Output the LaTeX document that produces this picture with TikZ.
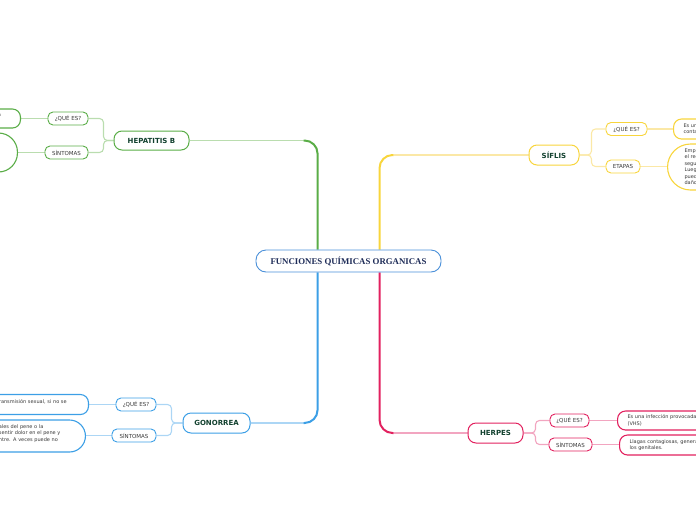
\documentclass[tikz,border=0pt]{standalone}
\usepackage{fontspec}
\setmainfont{DejaVu Sans}
\newfontfamily\titlefont{Liberation Serif}
\usetikzlibrary{backgrounds}
\definecolor{gB}{HTML}{5AAD47}
\definecolor{gL}{HTML}{BADDAF}
\definecolor{yB}{HTML}{F8D53C}
\definecolor{yL}{HTML}{FBE8A6}
\definecolor{bB}{HTML}{3C9FE6}
\definecolor{bL}{HTML}{ACD6F5}
\definecolor{pB}{HTML}{E2215F}
\definecolor{pL}{HTML}{F2A5C0}
\definecolor{cblue}{HTML}{4A90D9}
\definecolor{navy}{HTML}{1E2C58}
\definecolor{topictext}{HTML}{12412F}
\definecolor{subtext}{HTML}{3A3A3A}
\begin{document}
\begin{tikzpicture}[x=1pt,y=-1pt,
  centralbox/.style={draw=cblue, line width=0.9pt, rounded corners=10pt, fill=white,
    minimum width=185pt, minimum height=22pt, inner sep=0pt,
    font=\titlefont\bfseries\fontsize{8.8}{10}\selectfont, text=navy},
  topicbox/.style={draw=#1, line width=1pt, rounded corners=8pt, fill=white,
    minimum height=20pt, inner sep=0pt,
    font=\bfseries\fontsize{7}{8}\selectfont, text=topictext},
  subbox/.style={draw=#1, line width=0.9pt, rounded corners=5pt, fill=white,
    minimum height=13pt, inner sep=0pt,
    font=\fontsize{5.5}{6.5}\selectfont, text=subtext},
  leafbox/.style={draw=#1, line width=1.1pt, rounded corners=8pt, fill=white,
    align=left, inner xsep=4pt, inner ysep=3pt,
    font=\fontsize{5}{6.5}\selectfont, text=subtext},
  mainlight/.style={draw=#1, line width=1.5pt},
  mainfull/.style={draw=#1, line width=2pt, rounded corners=13pt},
  link/.style={draw=#1, line width=1.1pt, rounded corners=4pt}
]
\useasboundingbox (0,0) rectangle (696,520);
\clip (0,0) rectangle (696,520);

% central
\node[centralbox] (cen) at (348.5,261) {FUNCIONES QUÍMICAS ORGANICAS};

% HEPATITIS B
\node[topicbox=gB, minimum width=75pt, minimum height=19pt] (hep) at (151.5,140.5) {HEPATITIS B};
\node[subbox=gB, minimum width=40pt] (hq) at (68,118.5) {¿QUÉ ES?};
\node[subbox=gB, minimum width=43pt] (hs) at (66.5,152.5) {SÍNTOMAS};
\node[leafbox=gB, anchor=east, text width=38.5pt, minimum height=19pt] (hl1) at (21,118.5) {\leftskip=20pt\relax a\\~};
\node[leafbox=gB, anchor=east, minimum width=60pt, minimum height=39pt, rounded corners=19pt] (hl2) at (18,152.5) {};

% SIFLIS
\node[topicbox=yB, minimum width=50pt] (sif) at (554,155) {SÍFLIS};
\node[subbox=yB, minimum width=41pt] (sq) at (626.5,129) {¿QUÉ ES?};
\node[subbox=yB, minimum width=34pt] (se) at (623,166.5) {ETAPAS};
\node[leafbox=yB, anchor=west, text width=200pt, inner xsep=10pt, minimum height=20pt] (sl1) at (673,129)
  {Es una infección de transmisión sexual\\contagiosa, causada por una bacteria.};
\node[leafbox=yB, anchor=west, text width=200pt, inner xsep=17pt, minimum height=46pt, rounded corners=23pt] (sl2) at (667,167)
  {Empieza como una llaga sin dolor en los genitales,\\el recto o la boca. Los síntomas de la\\segunda etapa incluyen erupción cutánea.\\Luego la infección permanece latente y\\puede volver, causando graves\\daños al cerebro y otros órganos.};

% GONORREA
\node[topicbox=bB, minimum width=67pt] (gon) at (216.5,423) {GONORREA};
\node[subbox=bB, minimum width=40pt] (gq) at (136,404.5) {¿QUÉ ES?};
\node[subbox=bB, minimum width=44pt] (gs) at (134,435.5) {SÍNTOMAS};
\node[leafbox=bB, anchor=east, text width=105.5pt, minimum height=20pt] (gl1) at (89,404.5)
  {\leftskip=20pt\relax ransmisión sexual, si no se\\d.};
\node[leafbox=bB, anchor=east, text width=102.5pt, minimum height=32pt, rounded corners=16pt] (gl2) at (86,436)
  {\leftskip=20pt\relax ales del pene o la\\sentir dolor en el pene y\\ntre. A veces puede no\\~};

% HERPES
\node[topicbox=pB, minimum width=55pt] (her) at (495.5,433) {HERPES};
\node[subbox=pB, minimum width=39pt] (pq) at (569.5,420.5) {¿QUÉ ES?};
\node[subbox=pB, minimum width=43pt] (ps) at (570.5,444.5) {SÍNTOMAS};
\node[leafbox=pB, anchor=west, text width=200pt, inner xsep=10pt, minimum height=19pt] (pl1) at (617,420.5)
  {Es una infección provocada por el virus del herpes simple\\(VHS)};
\node[leafbox=pB, anchor=west, text width=200pt, inner xsep=10pt, minimum height=20pt] (pl2) at (619,445)
  {Llagas contagiosas, generalmente alrededor de\\los genitales.};

% coordinates for main branches
\coordinate (gtop) at ([xshift=62pt]cen.north west);
\coordinate (ytop) at ([xshift=124pt]cen.north west);
\coordinate (btop) at ([xshift=62pt]cen.south west);
\coordinate (ptop) at ([xshift=124pt]cen.south west);
\coordinate (gc) at (gtop |- hep.east);
\coordinate (yc) at (ytop |- sif.west);
\coordinate (bc) at (btop |- gon.east);
\coordinate (pc) at (ptop |- her.west);
\coordinate (gk) at ([xshift=-14pt]gc);
\coordinate (yk) at ([xshift=14pt]yc);
\coordinate (bk) at ([xshift=-14pt]bc);
\coordinate (pk) at ([xshift=14pt]pc);

\begin{scope}[on background layer]
  % main branches
  \draw[mainlight=gL] (hep.east) -- (gk);
  \draw[mainfull=gB] (gk) -| (gtop);
  \draw[mainlight=yL] (sif.west) -- (yk);
  \draw[mainfull=yB] (yk) -| (ytop);
  \draw[mainlight=bL] (gon.east) -- (bk);
  \draw[mainfull=bB] (bk) -| (btop);
  \draw[mainlight=pL] (her.west) -- (pk);
  \draw[mainfull=pB] (pk) -| (ptop);
  % topic to subtopics
  \draw[link=gL] (hep.west) -- ++(-10,0) |- (hq.east);
  \draw[link=gL] (hep.west) -- ++(-10,0) |- (hs.east);
  \draw[link=yL] (sif.east) -- ++(12,0) |- (sq.west);
  \draw[link=yL] (sif.east) -- ++(12,0) |- (se.west);
  \draw[link=bL] (gon.west) -- ++(-11,0) |- (gq.east);
  \draw[link=bL] (gon.west) -- ++(-11,0) |- (gs.east);
  \draw[link=pL] (her.east) -- ++(12,0) |- (pq.west);
  \draw[link=pL] (her.east) -- ++(12,0) |- (ps.west);
  % subtopics to leaves
  \draw[link=gL] (hq.west) -- (hq.west -| hl1.east);
  \draw[link=gL] (hs.west) -- (hs.west -| hl2.east);
  \draw[link=yL] (sq.east) -- (sq.east -| sl1.west);
  \draw[link=yL] (se.east) -- (se.east -| sl2.west);
  \draw[link=bL] (gq.west) -- (gq.west -| gl1.east);
  \draw[link=bL] (gs.west) -- (gs.west -| gl2.east);
  \draw[link=pL] (pq.east) -- (pq.east -| pl1.west);
  \draw[link=pL] (ps.east) -- (ps.east -| pl2.west);
\end{scope}
\end{tikzpicture}
\end{document}
